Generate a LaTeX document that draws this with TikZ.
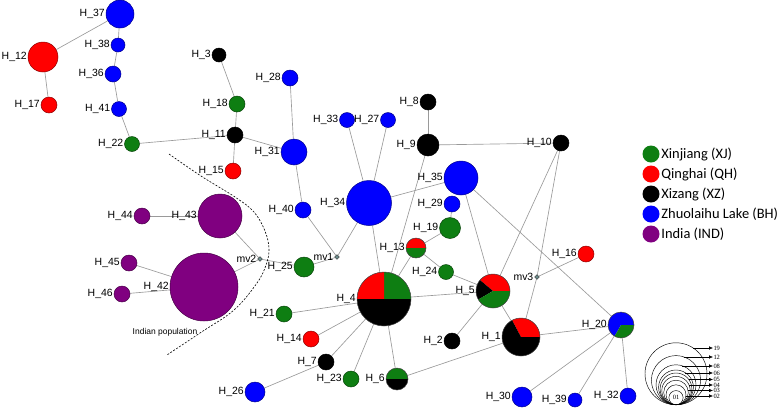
\documentclass[tikz,border=0pt]{standalone}
\usepackage{fontspec}
\setmainfont{Liberation Sans}
\newfontfamily\legfont{Carlito}
\newfontfamily\numfont{Liberation Serif}
\usetikzlibrary{positioning,arrows.meta,shapes.geometric,backgrounds}
\definecolor{hgreen}{HTML}{0E7E12}
\definecolor{hred}{HTML}{FF0000}
\definecolor{hblue}{HTML}{0000FF}
\definecolor{hpurple}{HTML}{800080}
\definecolor{edgegrey}{HTML}{9A9A9A}
\definecolor{mvgrey}{HTML}{6C8C8C}
\tikzset{
  hap/.style={circle, draw=black!75, line width=0.5pt, inner sep=0pt, minimum size=2*#1 bp},
  hlab/.style={font=\fontsize{10.5}{12}\selectfont, inner sep=0.8bp},
  mvnode/.style={diamond, draw=black!80, fill=mvgrey, line width=0.4pt, inner sep=0pt, minimum size=5bp},
  edge/.style={draw=edgegrey, line width=0.65bp},
  popline/.style={draw=black, line width=0.6bp, dash pattern=on 2bp off 1.5bp},
  poptxt/.style={font=\fontsize{8.5}{10}\selectfont, inner sep=0pt},
  legdot/.style={circle, inner sep=0pt, minimum size=17bp},
  legtxt/.style={font=\legfont\fontsize{14.5}{16}\selectfont, inner sep=1.5bp, anchor=west},
  sizec/.style={circle, draw=black, line width=0.45bp, inner sep=0pt, anchor=south},
  sizelab/.style={font=\numfont\fontsize{6.5}{7}\selectfont, inner sep=0.3bp, anchor=west},
  sizearr/.style={-{Latex[length=4bp,width=3.6bp]}, line width=0.45bp},
}
\begin{document}
\begin{tikzpicture}[x=1bp, y=1bp]
  \useasboundingbox (0,0) rectangle (784,-410);
  % single-region haplotypes
  \foreach \n/\x/\y/\r/\c in {37/120/14/14/hblue, 12/43/57/15/hred, 17/49/105/8/hred,
      38/118/45/7/hblue, 36/113/74/8/hblue, 41/119/109/7.5/hblue, 22/132/144/7.5/hgreen,
      3/219/55/7/black, 18/237/104/8/hgreen, 11/235/135/8/black, 15/233/171/8/hred,
      28/290/78/8/hblue, 31/294/152/13/hblue, 33/347/120/7.5/hblue, 27/388/120/7.5/hblue,
      8/428/102/8/black, 9/428/145/11/black, 35/461/178/17/hblue, 10/561/143/8/black,
      29/452/204/8/hblue, 19/450/228/10.5/hgreen, 24/446/272/7.5/hgreen, 34/369/203/22.5/hblue,
      40/303/210/8/hblue, 25/304/267/10/hgreen, 43/220/216/22/hpurple, 44/142/216/8/hpurple,
      42/204/287/34/hpurple, 45/129/263/8/hpurple, 46/122/294/8/hpurple, 21/284/314/8/hgreen,
      14/311/339/8/hred, 7/326/362/8/black, 23/351/379/8/hgreen, 26/255/392/10/hblue,
      2/452/341/8/black, 16/586/254/8/hred, 30/522/397/10/hblue, 39/575/400/7/hblue,
      32/628/396/8/hblue}
    \node[hap=\r, fill=\c, draw=\c!55!black, label={[hlab]left:H\_\n}] (h\n) at (\x,-\y) {};
  % shared haplotypes as pies
  \foreach \n/\x/\y/\r/\w in {4/384/299/27/{0/90/hgreen,90/180/hred,180/360/black},
      5/493/291/17/{0/140/hred,140/210/black,210/360/hgreen},
      1/521/337/19/{0/118/hred,118/360/black},
      6/397/379/11/{0/180/hgreen,180/360/black},
      13/416/248/10/{0/180/hred,180/360/hgreen},
      20/621/325/13/{0/240/hblue,240/360/hgreen}}
    \node[hap=\r, label={[hlab]left:H\_\n}, path picture={
        \foreach \a/\b/\cc in \w
          \fill[\cc] (path picture bounding box.center) -- ++(\a:40bp)
            arc[start angle=\a, end angle=\b, radius=40bp] -- cycle;}] (h\n) at (\x,-\y) {};
  % median vectors
  \node[mvnode, label={[hlab]left:mv1}] (mv1) at (337,-257) {};
  \node[mvnode, label={[hlab]left:mv2}] (mv2) at (260,-259) {};
  \node[mvnode, label={[hlab]left:mv3}] (mv3) at (537,-277) {};
  \begin{scope}[on background layer]
    \foreach \a/\b in {h37/h12, h37/h38, h38/h36, h36/h41, h41/h22, h12/h17, h22/h11,
        h3/h18, h18/h11, h11/h15, h11/h31, h28/h31, h31/h40, h40/mv1, mv1/h34, mv1/h25,
        h25/mv2, mv2/h43, mv2/h42, h43/h44, h42/h45, h42/h46, h34/h33, h34/h27, h34/h35,
        h34/h4, h8/h9, h9/h10, h9/h4, h29/h19, h19/h13, h13/h4, h13/h24, h24/h5, h35/h5,
        h35/h20, h10/h5, h10/mv3, mv3/h1, mv3/h16, h4/h5, h5/h1, h5/h2, h1/h20, h1/h6,
        h20/h30, h20/h39, h20/h32, h4/h21, h4/h14, h4/h7, h4/h23, h4/h6, h7/h26}
      \draw[edge] (\a) -- (\b);
  \end{scope}
  % Indian population boundary
  \draw[popline] plot[smooth, tension=0.6] coordinates {(169,-154) (201,-176) (235,-197)
      (254,-212) (265,-231) (269,-249) (266,-265) (257,-283) (234,-310) (200,-333) (167,-355)};
  \node[poptxt] (indpop) at (165,-332) {Indian population};
  % colour key
  \foreach \c/\t [count=\i] in {hgreen/Xinjiang (XJ), hred/Qinghai (QH), black/Xizang (XZ),
      hblue/Zhuolaihu Lake (BH), hpurple/India (IND)} {
    \node[legdot, fill=\c] (k\i) at (651,-134-20*\i) {};
    \node[legtxt, right=0bp of k\i] (t\i) {\t};
  }
  % size key
  \foreach \r/\ly/\t in {31/348/19, 24.6/357/12, 20/366/08, 17.4/373/06, 15.9/379.5/05,
      14.2/385/04, 12.3/390.5/03, 10/396/02} {
    \node[sizec, minimum size=2*\r bp] (s\t) at (676,-405) {};
    \node[sizelab] (l\t) at (713,-\ly) {\t};
    \draw[sizearr] ({676+sqrt(\r*\r-(\ly-405+\r)^2)},-\ly) -- (l\t.west);
  }
  \node[sizec, minimum size=14.2bp, font=\numfont\fontsize{6.5}{7}\selectfont] (s01) at (676,-405) {01};
\end{tikzpicture}
\end{document}
